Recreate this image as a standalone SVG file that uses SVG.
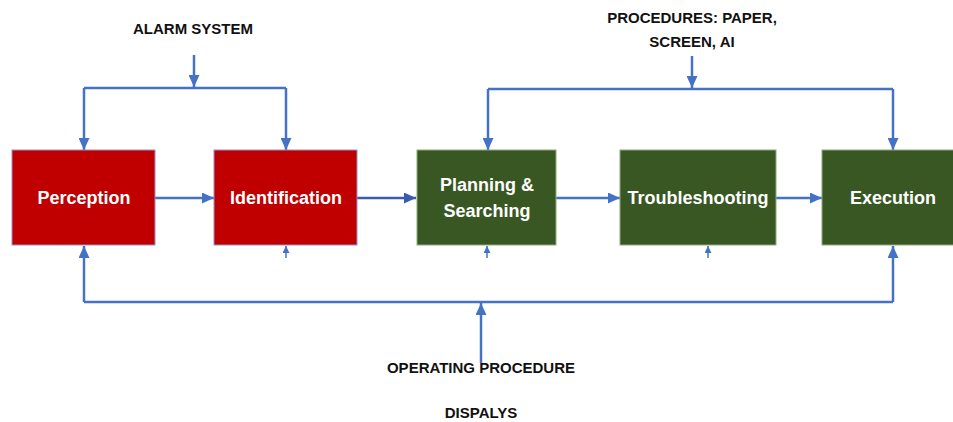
<svg xmlns="http://www.w3.org/2000/svg" width="953" height="422" viewBox="0 0 953 422">
<defs>
<style>
.red{fill:#C00000;stroke:#9A8FC8;stroke-width:1}
.green{fill:#385723;stroke:#8FAA7C;stroke-width:1}
.nt{font-family:"Liberation Sans",Arial,sans-serif;font-weight:bold;font-size:18px;fill:#FFFFFF;text-anchor:middle}
.lb{font-family:"Liberation Sans",Arial,sans-serif;font-weight:bold;font-size:15px;fill:#111111;text-anchor:middle}
.c{fill:none;stroke:#4472C4;stroke-width:2.5}
.cd{fill:none;stroke:#3A5BAE;stroke-width:2.5}
.s{fill:none;stroke:#4472C4;stroke-width:1.5}
</style>
<marker id="ah" markerWidth="12" markerHeight="11" refX="12" refY="5.5" orient="auto" markerUnits="userSpaceOnUse">
<path d="M0,0 L12,5.5 L0,11 Z" fill="#4472C4"/>
</marker>
<marker id="ahd" markerWidth="12" markerHeight="11" refX="12" refY="5.5" orient="auto" markerUnits="userSpaceOnUse">
<path d="M0,0 L12,5.5 L0,11 Z" fill="#3A5BAE"/>
</marker>
<marker id="ahs" markerWidth="7" markerHeight="7" refX="7" refY="3.5" orient="auto" markerUnits="userSpaceOnUse">
<path d="M0,0 L7,3.5 L0,7 Z" fill="#4472C4"/>
</marker>
</defs>
<rect width="953" height="422" fill="#FFFFFF"/>

<g id="labels">
<text class="lb" x="193" y="34">ALARM SYSTEM</text>
<text class="lb" x="692" y="23">PROCEDURES: PAPER,</text>
<text class="lb" x="692" y="47">SCREEN, AI</text>
<text class="lb" x="481" y="373">OPERATING PROCEDURE</text>
<text class="lb" x="481" y="418">DISPALYS</text>
</g>

<g id="connectors">
<!-- alarm system -->
<path class="c" d="M194,55 L194,87" marker-end="url(#ah)"/>
<path class="c" d="M84,88 L286,88"/>
<path class="c" d="M84,88 L84,150" marker-end="url(#ah)"/>
<path class="c" d="M286,88 L286,150" marker-end="url(#ah)"/>
<!-- procedures -->
<path class="c" d="M692,56 L692,88" marker-end="url(#ah)"/>
<path class="c" d="M488,89 L893,89"/>
<path class="c" d="M488,89 L488,150" marker-end="url(#ah)"/>
<path class="c" d="M893,89 L893,150" marker-end="url(#ah)"/>
<!-- main flow -->
<path class="c" d="M155,198 L214,198" marker-end="url(#ah)"/>
<path class="cd" d="M357,198 L416,198" marker-end="url(#ahd)"/>
<path class="c" d="M556,198 L620,198" marker-end="url(#ah)"/>
<path class="c" d="M776,198 L822,198" marker-end="url(#ah)"/>
<!-- displays feedback -->
<path class="c" d="M84,302 L893,302"/>
<path class="c" d="M84,302 L84,246" marker-end="url(#ah)"/>
<path class="c" d="M893,302 L893,246" marker-end="url(#ah)"/>
<path class="c" d="M481,363 L481,303" marker-end="url(#ah)"/>
<path class="s" d="M286,258 L286,246" marker-end="url(#ahs)"/>
<path class="s" d="M487,258 L487,246" marker-end="url(#ahs)"/>
<path class="s" d="M708,258 L708,246" marker-end="url(#ahs)"/>
</g>

<g id="perception">
<rect class="red" x="12" y="150" width="143" height="95"/>
<text class="nt" x="84" y="204">Perception</text>
</g>
<g id="identification">
<rect class="red" x="214" y="150" width="143" height="95"/>
<text class="nt" x="286" y="204">Identification</text>
</g>
<g id="planning">
<rect class="green" x="417" y="150" width="139" height="95"/>
<text class="nt" x="487" y="191">Planning &amp;</text>
<text class="nt" x="487" y="217">Searching</text>
</g>
<g id="troubleshooting">
<rect class="green" x="620" y="150" width="156" height="95"/>
<text class="nt" x="698" y="204">Troubleshooting</text>
</g>
<g id="execution">
<rect class="green" x="822" y="150" width="142" height="95"/>
<text class="nt" x="893" y="204">Execution</text>
</g>
</svg>
